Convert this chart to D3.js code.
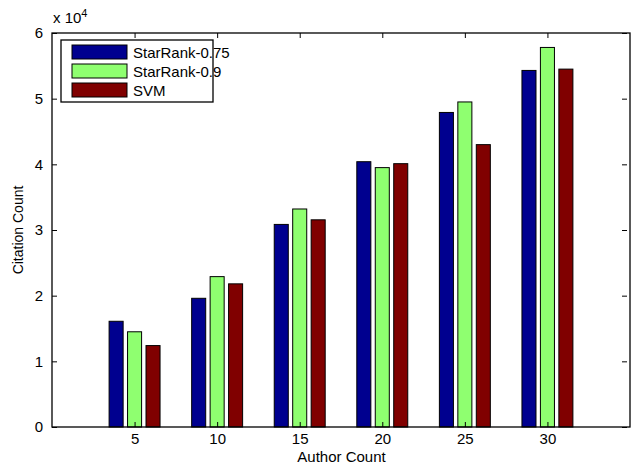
<!DOCTYPE html>
<html><head><meta charset="utf-8">
<script src="https://cdn.jsdelivr.net/npm/d3@7"></script>
<style>body{margin:0;background:#fff}svg{display:block}text{font-family:"Liberation Sans",Arial,sans-serif;fill:#000}</style>
</head><body>
<script>
const categories = ["5","10","15","20","25","30"];
const seriesNames = ["StarRank-0.75","StarRank-0.9","SVM"];
const starRank075 = [1.61, 1.96, 3.085, 4.04, 4.79, 5.43];
const starRank09  = [1.45, 2.29, 3.32, 3.95, 4.95, 5.78];
const svm         = [1.24, 2.18, 3.155, 4.01, 4.30, 5.45];
const yTicks = [0,1,2,3,4,5,6];
const colors = ["#00008f","#8fff70","#800000"];
const series = [starRank075, starRank09, svm];

const W=631,H=466;
const m={l:52,r:1,t:33,b:39};
const svg=d3.select("body").append("svg").attr("width",W).attr("height",H);
const x=d3.scaleLinear().domain([0,categories.length+1]).range([m.l,W-m.r]);
const y=d3.scaleLinear().domain([0,6]).range([H-m.b,m.t]);
const off=[-0.2235,0,0.2235], bw=0.17;

const g=svg.append("g");
series.forEach((s,j)=>{
  g.selectAll(null).data(s).enter().append("rect")
    .attr("x",(d,i)=>x(i+1+off[j]-bw/2))
    .attr("width",x(bw)-x(0))
    .attr("y",d=>y(d))
    .attr("height",d=>y(0)-y(d))
    .attr("fill",colors[j]).attr("stroke","#000").attr("stroke-width",1);
});

// axes
const xAxis=d3.axisBottom(x).tickValues(d3.range(1,categories.length+1)).tickFormat(i=>categories[i-1]).tickSizeInner(-5).tickSizeOuter(0).tickPadding(6);
const yAxis=d3.axisLeft(y).tickValues(yTicks).tickFormat(d3.format("d")).tickSizeInner(-5).tickSizeOuter(0).tickPadding(9);
const xa=svg.append("g").attr("transform",`translate(0,${y(0)})`).call(xAxis);
const ya=svg.append("g").attr("transform",`translate(${m.l},0)`).call(yAxis);
svg.append("g").attr("transform",`translate(0,${y(6)})`).call(d3.axisTop(x).tickValues(d3.range(1,categories.length+1)).tickFormat("").tickSizeInner(-5).tickSizeOuter(0));
svg.append("g").attr("transform",`translate(${W-m.r-3},0)`).call(d3.axisRight(y).tickValues(yTicks).tickFormat("").tickSizeInner(-5).tickSizeOuter(0));
svg.selectAll(".domain").remove();
svg.selectAll(".tick line").attr("stroke","#000");
svg.selectAll(".tick text").style("font-size","15px").attr("font-family","Liberation Sans, Arial, sans-serif");
svg.append("rect").attr("x",m.l).attr("y",y(6)).attr("width",W-m.r-m.l).attr("height",y(0)-y(6))
  .attr("fill","none").attr("stroke","#000").attr("stroke-width",1.3);

// exponent
const ex=svg.append("text").attr("x",m.l+1).attr("y",y(6)-10).style("font-size","15px");
ex.append("tspan").text("x 10");
ex.append("tspan").attr("dy",-6).style("font-size","11px").text("4");

// labels
svg.append("text").attr("x",(m.l+W)/2).attr("y",H-4).attr("text-anchor","middle").style("font-size","15px").text("Author Count");
svg.append("text").attr("transform",`translate(23,${(y(0)+y(6))/2}) rotate(-90)`).attr("text-anchor","middle").style("font-size","14px").text("Citation Count");

// legend
const lg=svg.append("g").attr("transform","translate(61,40)");
lg.append("rect").attr("width",152).attr("height",62).attr("fill","#fff").attr("stroke","#000").attr("stroke-width",1.3);
seriesNames.forEach((n,j)=>{
  lg.append("rect").attr("x",11).attr("y",5+j*19).attr("width",55).attr("height",14).attr("fill",colors[j]).attr("stroke","#000");
  lg.append("text").attr("x",72).attr("y",18+j*19).style("font-size","15px").text(n);
});
</script>
</body></html>
